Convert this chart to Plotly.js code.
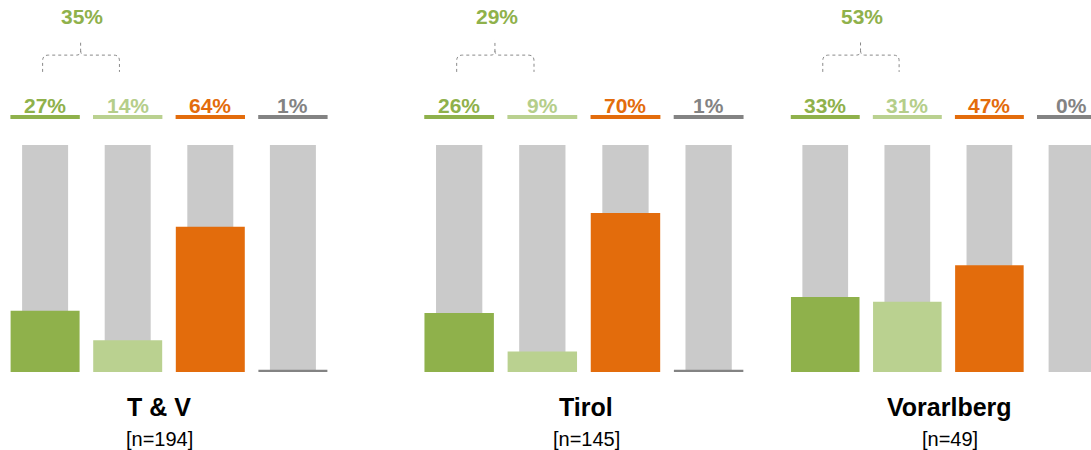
<!DOCTYPE html>
<html>
<head>
<meta charset="utf-8">
<script src="https://cdn.plot.ly/plotly-3.0.1.min.js"></script>
<style>html,body{margin:0;padding:0;background:#fff;}#chart{width:1091px;height:450px;}</style>
</head>
<body>
<div id="chart"></div>
<script>
// ---- data ----
var groups = ['T & V', 'Tirol', 'Vorarlberg'];
var sampleSizes = [194, 145, 49];
var barSlots = [0, 1, 2, 3];
var darkGreenValues = [27, 26, 33];
var lightGreenValues = [14, 9, 31];
var orangeValues = [64, 70, 47];
var greyValues = [1, 1, 0];
var combinedGreenValues = [35, 29, 53];
var backgroundValues = [100, 100, 100, 100];

// ---- styles ----
var colDark = '#8FB14B', colLight = '#BAD190', colOrange = '#E36C0C', colGrey = '#838383', colBg = '#CACACA';
var seriesColors = [colDark, colLight, colOrange, colGrey];
var labelColors = [colDark, '#B5CE8A', colOrange, colGrey];
var FONT = 'Liberation Sans, Arial, sans-serif';

var axisIds = ['x', 'x2', 'x3'];
var layoutAxisNames = ['xaxis', 'xaxis2', 'xaxis3'];
var domains = [[3.8 / 1091, 334.2 / 1091], [417.6 / 1091, 750.2 / 1091], [784.2 / 1091, 1]];
var ranges = [[-0.5, 3.5], [-0.5, 3.5], [-0.5, 3.238]];
var titleX = [1.38, 1.53, 1.52];

var traces = [];
var annotations = [];
var shapes = [];

groups.forEach(function (g, gi) {
  var vals = [darkGreenValues[gi], lightGreenValues[gi], orangeValues[gi], greyValues[gi]];
  traces.push({
    type: 'bar', x: barSlots, y: backgroundValues, xaxis: axisIds[gi], yaxis: 'y',
    width: 0.557, marker: {color: colBg}, hoverinfo: 'skip', showlegend: false
  });
  traces.push({
    type: 'bar', x: barSlots, y: vals, xaxis: axisIds[gi], yaxis: 'y',
    width: 0.835, marker: {color: seriesColors}, hoverinfo: 'skip', showlegend: false
  });
  barSlots.forEach(function (s, si) {
    shapes.push({
      type: 'line', xref: axisIds[gi], yref: 'y',
      x0: s - 0.42, x1: s + 0.42, y0: 112.3, y1: 112.3,
      line: {color: seriesColors[si], width: 4}
    });
    annotations.push({
      xref: axisIds[gi], yref: 'y', x: s, y: 117.6, yanchor: 'middle', xanchor: 'center',
      text: vals[si] + '%', showarrow: false,
      font: {family: FONT, size: 21, color: labelColors[si], weight: 'bold'}
    });
  });
  // bracket over the two green bars
  var x0 = -0.03, x1 = 0.9, xm = 0.43, yh = 139.6, yb = 132.2, yt = 146.3;
  var path = 'M ' + x0 + ',' + yb + ' L ' + x0 + ',' + (yh - 2.5) +
    ' Q ' + x0 + ',' + yh + ' ' + (x0 + 0.07) + ',' + yh +
    ' L ' + (xm - 0.05) + ',' + yh + ' Q ' + xm + ',' + yh + ' ' + xm + ',' + (yh + 2) +
    ' L ' + xm + ',' + yt +
    ' M ' + xm + ',' + (yh + 2) + ' Q ' + xm + ',' + yh + ' ' + (xm + 0.05) + ',' + yh +
    ' L ' + (x1 - 0.07) + ',' + yh + ' Q ' + x1 + ',' + yh + ' ' + x1 + ',' + (yh - 2.5) +
    ' L ' + x1 + ',' + yb;
  shapes.push({type: 'path', xref: axisIds[gi], yref: 'y', path: path,
    line: {color: '#8A8A8A', width: 1, dash: 'dot'}});
  annotations.push({
    xref: axisIds[gi], yref: 'y', x: 0.45, y: 156.5, yanchor: 'middle', xanchor: 'center',
    text: combinedGreenValues[gi] + '%', showarrow: false,
    font: {family: FONT, size: 21, color: colDark, weight: 'bold'}
  });
  annotations.push({
    xref: axisIds[gi], yref: 'y', x: titleX[gi], y: -15.2, yanchor: 'middle', xanchor: 'center',
    text: '<b>' + g + '</b>', showarrow: false,
    font: {family: FONT, size: 25, color: '#000000'}
  });
  annotations.push({
    xref: axisIds[gi], yref: 'y', x: titleX[gi], y: -29.3, yanchor: 'middle', xanchor: 'center',
    text: '[n=' + sampleSizes[gi] + ']', showarrow: false,
    font: {family: FONT, size: 20, color: '#000000'}
  });
});

var layout = {
  width: 1091, height: 450,
  margin: {l: 0, r: 0, t: 0, b: 0},
  paper_bgcolor: '#ffffff', plot_bgcolor: 'rgba(0,0,0,0)',
  barmode: 'overlay', showlegend: false,
  yaxis: {range: [-34.36, 163.88], domain: [0, 1], visible: false, fixedrange: true},
  annotations: annotations, shapes: shapes
};
layoutAxisNames.forEach(function (n, i) {
  layout[n] = {domain: domains[i], range: ranges[i], visible: false, anchor: 'y', fixedrange: true};
});

Plotly.newPlot('chart', traces, layout, {displayModeBar: false, staticPlot: true});
</script>
</body>
</html>
